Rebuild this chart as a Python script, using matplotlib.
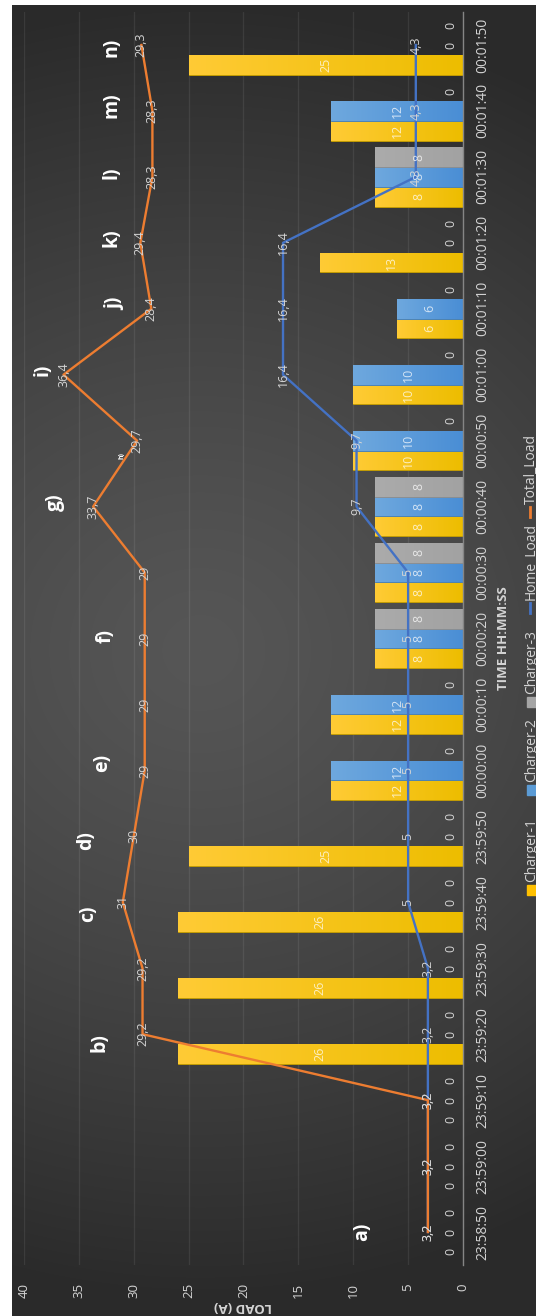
import matplotlib
matplotlib.use("Agg")
import matplotlib.pyplot as plt
from matplotlib.patches import Rectangle
from matplotlib.lines import Line2D
import numpy as np

plt.rcParams["font.family"] = ["Open Sans", "DejaVu Sans"]

times = ["23:58:50", "23:59:00", "23:59:10", "23:59:20", "23:59:30", "23:59:40",
         "23:59:50", "00:00:00", "00:00:10", "00:00:20", "00:00:30", "00:00:40",
         "00:00:50", "00:01:00", "00:01:10", "00:01:20", "00:01:30", "00:01:40",
         "00:01:50"]
charger1 = [0, 0, 0, 26, 26, 26, 25, 12, 12, 8, 8, 8, 10, 10, 6, 13, 8, 12, 25]
charger2 = [0, 0, 0, 0, 0, 0, 0, 12, 12, 8, 8, 8, 10, 10, 6, 0, 8, 12, 0]
charger3 = [0, 0, 0, 0, 0, 0, 0, 0, 0, 8, 8, 8, 0, 0, 0, 0, 8, 0, 0]
home_load = [3.2, 3.2, 3.2, 3.2, 3.2, 5, 5, 5, 5, 5, 5, 9.7, 9.7, 16.4, 16.4, 16.4, 4.3, 4.3, 4.3]
total_load = [3.2, 3.2, 3.2, 29.2, 29.2, 31, 30, 29, 29, 29, 29, 33.7, 29.7, 36.4, 28.4, 29.4,
              28.3, 28.3, 29.3]

# stage markers: text, (load, slot)
stages = ["a)", "b)", "c)", "d)", "e)", "f)", "g)", "i)", "j)", "k)", "l)", "m)", "n)"]
stage_at = [(9.2, 0), (33.1, 2.87), (34.2, 4.83), (34.3, 5.93), (32.9, 7.11), (32.6, 9.04),
            (37.2, 11.06), (38.3, 13.07), (31.7, 14.08), (32.0, 15.08), (32.0, 16.07),
            (32.0, 17.09), (32.0, 17.97)]

W, H = 536, 1316
LBL = "#d4d4d4"


def fx(px):
    return px / W


def fy(py):
    return 1 - py / H


def fmt(v):
    return f"{v:g}".replace(".", ",")


fig = plt.figure(figsize=(W / 100, H / 100), dpi=100)
fig.patch.set_facecolor("white")

# dark chart area with a soft radial shading
bg = fig.add_axes([fx(12), 0, 1 - fx(12), fy(5)])
yy, xx = np.mgrid[5:H, 12:W]
d = np.clip(np.sqrt(((yy - 650) / 650.0) ** 2 + ((xx - 200) / 700.0) ** 2), 0, 1)
shade = (0x56 - (0x56 - 0x2a) * d ** 1.3) / 255
bg.imshow(np.dstack([shade] * 3), aspect="auto", extent=[0, 1, 0, 1], origin="upper")
bg.axis("off")

ax = fig.add_axes([fx(24), fy(1265), fx(463) - fx(24), fy(12) - fy(1265)])
ax.patch.set_alpha(0)

pos = np.arange(len(times))
bw = 0.3


def shade_bar(bar, light, dark):
    x0, y0 = bar.get_x(), bar.get_y()
    grad = np.linspace(0, 1, 64)[None, :, None]
    c = np.array(matplotlib.colors.to_rgb(dark))[None, None, :] * (1 - grad) + \
        np.array(matplotlib.colors.to_rgb(light))[None, None, :] * grad
    im = ax.imshow(c, extent=[x0, x0 + bar.get_width(), y0, y0 + bar.get_height()],
                   aspect="auto", zorder=2, interpolation="bilinear")
    im.set_clip_path(bar)


series = [(charger1, "#FFCB35", "#EDBD00", "#c9a000", -bw),
          (charger2, "#6EA8DE", "#4A8ED5", "#3f7dbd", 0),
          (charger3, "#ABABAB", "#A2A2A2", "#8c8c8c", bw)]
for vals, light, dark, edge, off in series:
    bars = ax.barh(pos + off, vals, height=bw, color=dark, edgecolor=edge,
                   linewidth=0.6, zorder=2)
    for b, v in zip(bars, vals):
        yc = b.get_y() + bw / 2
        if v:
            shade_bar(b, light, dark)
            ax.text(v / 2, yc, fmt(v), rotation=90, ha="center", va="center",
                    color=(1, 1, 1, 0.72), fontsize=9, zorder=6)
        else:
            ax.annotate("0", (0, yc), xytext=(-12, 0), textcoords="offset pixels",
                        rotation=90, ha="center", va="center", color=LBL,
                        fontsize=9, zorder=6)

ax.plot(home_load, pos, color="#4472C4", lw=1.7, zorder=4)
ax.plot(total_load, pos, color="#ED7D31", lw=1.7, zorder=4)
for line in (home_load, total_load):
    for k, v in enumerate(line):
        ax.text(v, k, fmt(v), rotation=90, ha="center", va="center",
                color=LBL, fontsize=9, zorder=6)

for s, (v, k) in zip(stages, stage_at):
    ax.text(v, k, s, rotation=90, ha="center", va="center", color="white",
            fontsize=14, fontweight="bold", zorder=6)
ax.text(31.1, 11.78, "h)", rotation=90, ha="center", va="center", color="white",
        fontsize=5, fontweight="bold", zorder=6)

ax.set_xlim(40, 0)
ax.set_ylim(-0.5, len(times) - 0.5)
ax.set_xticks(range(0, 41, 5))
ax.set_yticks(pos)
ax.set_yticklabels(times)
ax.yaxis.tick_right()
ax.tick_params(axis="y", length=0, pad=9, labelsize=10, labelcolor=LBL, labelrotation=90)
ax.tick_params(axis="x", length=0, pad=13, labelsize=9.5, labelcolor=LBL, labelrotation=90)
for t in ax.get_yticklabels():
    t.set_va("center")
ax.grid(axis="x", color="white", alpha=0.08, lw=0.9, zorder=0)
ax.set_axisbelow(True)
for s in ["top", "left", "bottom"]:
    ax.spines[s].set_visible(False)
ax.spines["right"].set_color("#858585")
ax.spines["right"].set_linewidth(1)

ax.set_xlabel("LOAD (A)", rotation=180, fontweight="bold", color=LBL, fontsize=9.5, labelpad=1)
ax.yaxis.set_label_position("right")
ax.set_ylabel("TIME HH:MM:SS", fontweight="bold", color=LBL, fontsize=9.5, labelpad=5)

# legend, laid out along the right edge
legend_items = [("Charger-1", "#FFC000", "box"), ("Charger-2", "#5B9BD5", "box"),
                ("Charger-3", "#A5A5A5", "box"), ("Home_Load", "#4472C4", "line"),
                ("Total_Load", "#ED7D31", "line")]
legend_y = [890, 790, 702, 608, 512]
for (name, col, kind), ym in zip(legend_items, legend_y):
    if kind == "box":
        fig.add_artist(Rectangle((fx(527), fy(ym + 5)), fx(10), 10 / H, color=col,
                                 transform=fig.transFigure))
    else:
        fig.add_artist(Line2D([fx(530), fx(530)], [fy(ym + 5), fy(ym - 5)], color=col,
                              lw=2, transform=fig.transFigure))
    fig.text(fx(535), fy(ym - 8), name, rotation=90, rotation_mode="anchor",
             ha="left", va="baseline", color=LBL, fontsize=10)

fig.savefig("out.png", dpi=100, facecolor=fig.get_facecolor())
